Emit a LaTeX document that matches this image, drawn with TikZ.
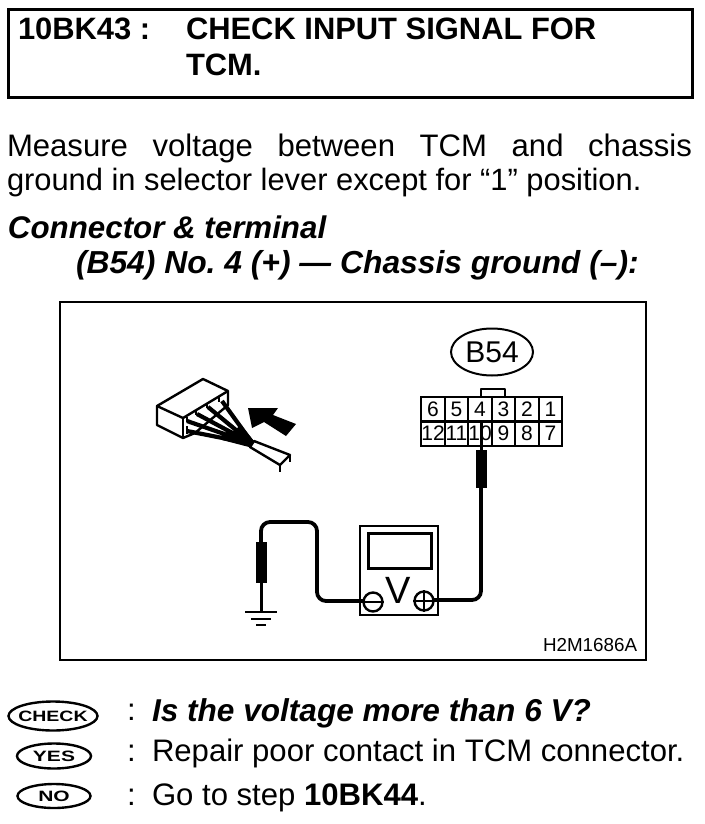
\documentclass[tikz,border=0pt]{standalone}
\usepackage{fontspec}
\usepackage{graphicx}
\setmainfont{Liberation Sans}
\usetikzlibrary{shapes.geometric}
\newcommand{\fs}[1]{\fontsize{#1}{#1}\selectfont}
\tikzset{
  txt/.style={anchor=base west,inner sep=0pt,outer sep=0pt},
  head/.style={txt,font=\fs{30.9}\bfseries},
  body/.style={txt,font=\fs{31.1}},
  subh/.style={txt,font=\fs{31.6}\bfseries\itshape},
  frame/.style={draw=black,line width=2pt},
  wire/.style={draw=black,line width=3.8pt,rounded corners=9pt},
  probe/.style={draw=black,fill=black,minimum width=10pt,inner sep=0pt,outer sep=0pt},
  cell/.style={draw=black,line width=1.8pt,minimum width=23.5pt,minimum height=24.5pt,inner sep=0pt,font=\fs{21}},
  badge/.style={draw=black,line width=2.4pt,ellipse,inner sep=0pt,font=\fs{15}\bfseries},
  term/.style={draw=black,line width=2.4pt,circle,minimum size=19pt,inner sep=0pt,fill=white},
  conn/.style={draw=black,line width=2.4pt,line join=round},
  lead/.style={draw=black,line width=3pt},
  fan/.style={draw=black,line width=4.2pt}
}
\begin{document}
\begin{tikzpicture}[x=1pt,y=-1pt]
\useasboundingbox (0,0) rectangle (704,824);
% header
\node[draw=black,line width=3pt,minimum width=684pt,minimum height=88pt,anchor=north west,inner sep=0pt] (hbox) at (7,8) {};
\node[head] (h1) at (18,40) {10BK43 :};
\node[head] (h2) at (186,40) {CHECK INPUT SIGNAL FOR};
\node[head] (h3) at (186,76) {TCM.};
% paragraph
\node[body] (p1) at (7,156) {\makebox[685pt][s]{Measure voltage between TCM and chassis}};
\node[body,font=\fs{30.85}] (p2) at (7,190) {ground in selector lever except for “1” position.};
\node[subh,font=\fs{31.3}\bfseries\itshape] (s1) at (8,238) {Connector \& terminal};
\node[subh,font=\fs{31.8}\bfseries\itshape] (s2) at (76,273) {(B54) No.\ 4 (+) — Chassis ground (–):};
% figure frame
\node[frame,minimum width=586pt,minimum height=358pt,anchor=north west,inner sep=0pt] (fig) at (59,301) {};
\node[txt,font=\fs{18.8}] (code) at (543,651) {H2M1686A};
% B54 label
\node[draw=black,line width=2pt,ellipse,minimum width=82pt,minimum height=47pt,inner sep=0pt,font=\fs{30}] (b54) at (492,352) {B54};
% connector face
\draw[conn] (481,397) -- (481,389) -- (505,389) -- (505,397);
\foreach \n [count=\i from 0] in {6,5,4,3,2,1}
  \node[cell] (t\n) at (433+\i*23.5,409.5) {\n};
\foreach \n [count=\i from 0] in {12,11,10,9,8,7}
  \node[cell] (t\n) at (433+\i*23.5,433.5) {\n};
% right probe
\node[probe,minimum height=37pt] (pr) at (481,469) {};
\coordinate (tip) at (481,420);
\draw[lead] (tip) -- (pr.north);
% meter
\node[draw=black,line width=2.4pt,minimum width=78pt,minimum height=89pt,anchor=north west,inner sep=0pt] (meter) at (359,525) {};
\node[draw=black,line width=2.6pt,minimum width=63pt,minimum height=35pt,anchor=north west,inner sep=0pt] (screen) at (367,532) {};
\node[font=\fs{38},anchor=base,inner sep=0pt] (vlabel) at (398.5,603) {V};
% wires
\coordinate (rc) at (481,600);
\coordinate (ltop1) at (261,522);
\coordinate (ltop2) at (317,522);
\coordinate (lbot) at (317,601);
\draw[wire] (pr.south) -- (rc) -- (424,600);
\node[probe,minimum height=40pt] (pl) at (261,562) {};
\draw[wire] (373,601) -- (lbot) -- (ltop2) -- (ltop1) -- (pl.north);
\node[term] (minus) at (373,602) {};
\draw[line width=2.4pt] (minus.west) -- (minus.east);
\node[term] (plus) at (424,601) {};
\draw[line width=2.4pt] (plus.west) -- (plus.east) (plus.north) -- (plus.south);
% ground
\coordinate (g1) at (261,612);
\draw[lead] (pl.south) -- (g1);
\coordinate (g1a) at (245,612); \coordinate (g1b) at (277,612);
\coordinate (g2a) at (251,619); \coordinate (g2b) at (271,619);
\coordinate (g3a) at (256,625); \coordinate (g3b) at (266,625);
\draw[line width=2.8pt] (g1a) -- (g1b) (g2a) -- (g2b) (g3a) -- (g3b);
% small connector sketch
\draw[conn,fill=white] (157,406) -- (203,379) -- (228,391) -- (228,405) -- (195,433) -- (183,438) -- (157,425) -- cycle;
\draw[conn] (157,406) -- (183,418) -- (228,391);
\draw[conn] (183,418) -- (183,438);
\coordinate (fanpt) at (253,444);
\draw[fan] (222,401) -- (fanpt) (208,407) -- (fanpt) (197,414) -- (fanpt) (187,421) -- (fanpt) (187,431) -- (fanpt);
\fill[black] (241,425) -- (254,441) -- (249,447) -- (222,440) -- cycle;
\draw[line width=1.8pt] (219,397) -- (219,402) (207,403) -- (207,408) (196,410) -- (196,415) (187,417) -- (187,422) (187,426) -- (187,434);
\draw[conn,fill=white] (254,441) -- (290,455) -- (280,465) -- (250,447) -- cycle;
\draw[line width=2pt] (290,455) -- (290,462) (280,465) -- (280,472);
\fill[black] (248,408) -- (278,408) -- (273,415) -- (296,424) -- (286,436) -- (264,422) -- (252,428) -- cycle;
% bottom legend
\node[badge,minimum width=89pt,minimum height=29pt] (check) at (53,716) {\makebox[0pt]{\scalebox{1.3}[1]{CHECK}}};
\node[badge,minimum width=74pt,minimum height=25pt] (yes) at (54,756) {\makebox[0pt]{\scalebox{1.4}[1]{YES}}};
\node[badge,minimum width=73pt,minimum height=24pt] (no) at (54,796) {\makebox[0pt]{\scalebox{1.4}[1]{NO}}};
\node[body] (c1) at (127,720) {:};
\node[body] (c2) at (127,761) {:};
\node[body] (c3) at (127,805) {:};
\node[subh] (l1) at (152,721) {Is the voltage more than 6 V?};
\node[body] (l2) at (152,761) {Repair poor contact in TCM connector.};
\node[body] (l3) at (152,805) {Go to step \textbf{10BK44}.};
\end{tikzpicture}
\end{document}
